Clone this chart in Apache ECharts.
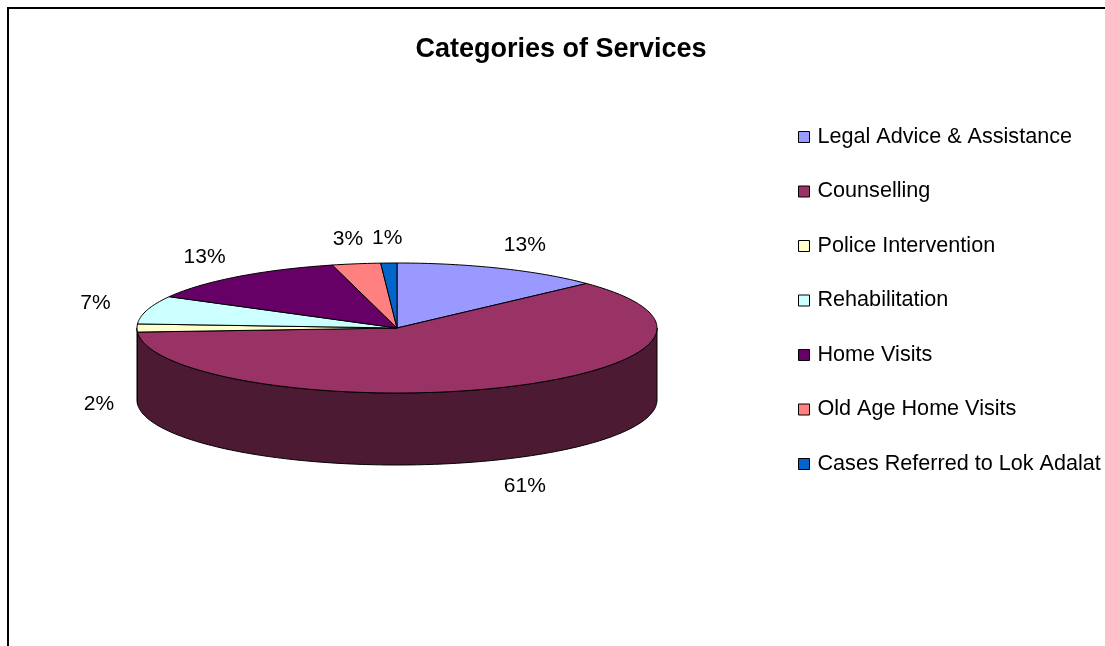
<!DOCTYPE html>
<html>
<head>
<meta charset="utf-8">
<script src="https://cdn.jsdelivr.net/npm/echarts@6/dist/echarts.min.js"></script>
<style>html,body{margin:0;padding:0;background:#fff;}#c{width:1105px;height:646px;}</style>
</head>
<body>
<div id="c"></div>
<script>
var categories = ['Legal Advice & Assistance', 'Counselling', 'Police Intervention', 'Rehabilitation', 'Home Visits', 'Old Age Home Visits', 'Cases Referred to Lok Adalat'];
var values = [13, 61, 2, 7, 13, 3, 1];
var colors = ['#9999FF', '#993366', '#FFFFCC', '#CCFFFF', '#660066', '#FF8080', '#0066CC'];
var titleText = 'Categories of Services';

var FONT = '"Liberation Sans", Arial, sans-serif';
var total = values.reduce(function (a, b) { return a + b; }, 0);

function darken(hex, f) {
  var n = parseInt(hex.slice(1), 16);
  var r = Math.round(((n >> 16) & 255) * f), g = Math.round(((n >> 8) & 255) * f), b = Math.round((n & 255) * f);
  return 'rgb(' + r + ',' + g + ',' + b + ')';
}

var CX = 397, CY = 328, RX = 260, RY = 65, DEPTH = 72;
function pt(deg, dy) {
  var a = deg * Math.PI / 180;
  return [CX + RX * Math.sin(a), CY - RY * Math.cos(a) + (dy || 0)];
}
function arc(a1, a2, dy) {
  var pts = [], n = Math.max(2, Math.ceil((a2 - a1) / 1));
  for (var i = 0; i <= n; i++) pts.push(pt(a1 + (a2 - a1) * i / n, dy));
  return pts;
}

function renderItem(params, api) {
  var idx = params.seriesIndex;
  var v = api.value(0);
  var before = 0;
  for (var i = 0; i < idx; i++) before += values[i];
  var a1 = before / total * 360, a2 = (before + v) / total * 360;
  var color = colors[idx];
  var children = [];
  var s = Math.max(a1, 90), e = Math.min(a2, 270);
  if (e > s) {
    var top = arc(s, e, 0), bot = arc(s, e, DEPTH).reverse();
    children.push({
      type: 'polygon', z2: 5,
      shape: { points: top.concat(bot) },
      style: { fill: darken(color, 0.5), stroke: '#000', lineWidth: 1 }
    });
  }
  children.push({
    type: 'polygon', z2: 10,
    shape: { points: [[CX, CY]].concat(arc(a1, a2, 0)) },
    style: { fill: color, stroke: '#000', lineWidth: 1 }
  });
  var mid = (a1 + a2) / 2, m = mid * Math.PI / 180;
  var sx = Math.sin(m), cy = Math.cos(m);
  var onSide = mid >= 90 && mid <= 270.5;
  var lx = CX + (sx > 0 ? 322 : (onSide ? 298 : 314)) * sx, ly = CY - 90 * cy;
  if (onSide) ly += DEPTH + 4;
  children.push({
    type: 'text', z2: 20,
    style: {
      x: lx, y: ly, text: Math.round(v / total * 100) + '%',
      fill: '#000', font: '21px ' + FONT, align: 'center', verticalAlign: 'middle'
    }
  });
  return { type: 'group', children: children };
}

var series = categories.map(function (name, i) {
  return {
    type: 'custom', name: name, coordinateSystem: 'none',
    renderItem: renderItem, data: [[values[i]]],
    itemStyle: { color: colors[i] }, silent: true
  };
});

var chart = echarts.init(document.getElementById('c'));
chart.setOption({
  animation: false,
  backgroundColor: '#fff',
  color: colors,
  title: {
    text: titleText, left: 556, top: 31, textAlign: 'center',
    textStyle: { fontFamily: FONT, fontSize: 27, fontWeight: 'bold', color: '#000' }
  },
  legend: {
    orient: 'vertical', left: 793, top: 121,
    data: categories, icon: 'rect', itemWidth: 11, itemHeight: 11,
    itemGap: 32.5, itemStyle: { borderColor: '#000', borderWidth: 1 },
    textStyle: { fontFamily: FONT, fontSize: 21.6, color: '#000', lineHeight: 22, padding: [0, 0, 0, 3] },
    selectedMode: false
  },
  graphic: [{
    type: 'rect', silent: true,
    shape: { x: 8, y: 8, width: 1200, height: 700 },
    style: { fill: 'none', stroke: '#000', lineWidth: 2 }
  }],
  series: series
});
</script>
</body>
</html>
